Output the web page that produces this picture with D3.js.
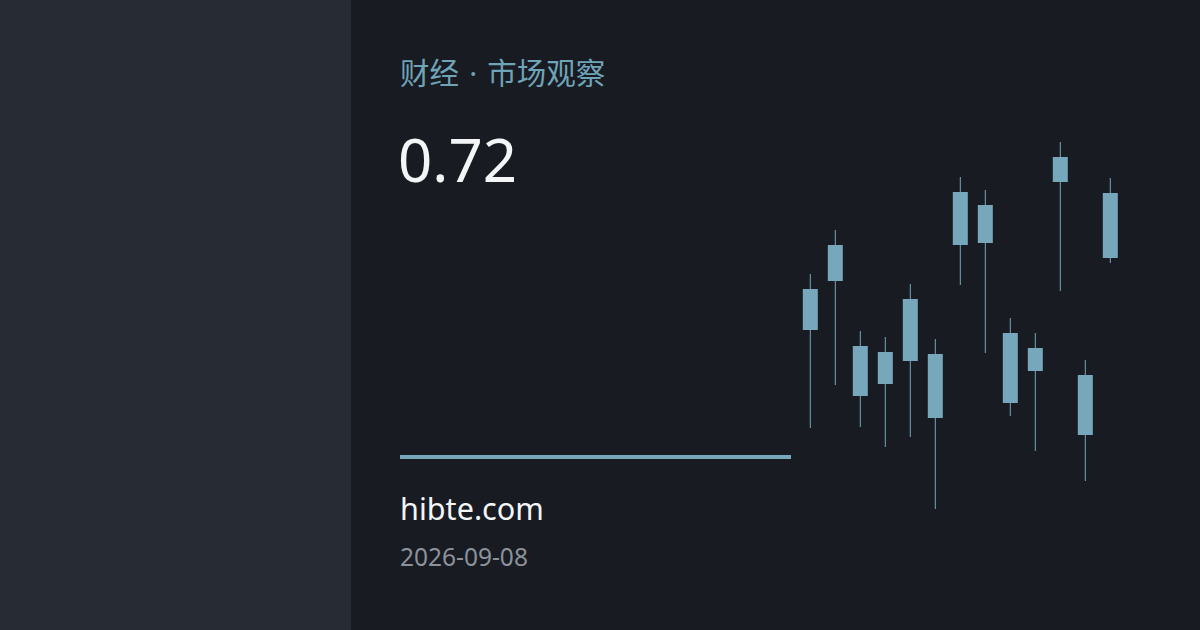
<!DOCTYPE html>
<html><head><meta charset="utf-8">
<script src="https://cdn.jsdelivr.net/npm/d3@7/dist/d3.min.js"></script>
<style>html,body{margin:0;padding:0;background:#181b22;}svg{display:block;}</style>
</head><body>
<svg id="c" width="1200" height="630"></svg>
<script>
const categories = ["1","2","3","4","5","6","7","8","9","10","11","12","13"];
const highs  = [24.6, 29.0, 18.9, 18.3, 23.6, 18.1, 34.3, 33.0, 20.2, 18.7, 37.8, 16.0, 34.2];
const lows   = [ 9.2, 13.5,  9.3,  7.3,  8.3,  1.1, 23.5, 16.7, 10.4,  6.9, 22.9,  3.9, 25.7];
const opens  = [19.0, 23.9, 17.4, 13.6, 15.9, 16.6, 27.5, 27.7, 18.7, 17.2, 33.8,  8.5, 26.2];
const closes = [23.1, 27.5, 12.4, 16.8, 22.1, 10.2, 32.8, 31.5, 11.7, 14.9, 36.3, 14.5, 32.7];
const titleParts = ["财经", " · ", "市场观察"];
const headline = "0.72";
const site = "hibte.com";
const dateLabel = "2026-09-08";

const svg = d3.select("#c");
svg.append("rect").attr("width",1200).attr("height",630).attr("fill","#181b22");
svg.append("rect").attr("width",351).attr("height",630).attr("fill","#272b33");

const font = "'Noto Sans','Noto Sans CJK SC',sans-serif";
const t = svg.append("text").attr("x",400).attr("y",84).attr("font-family",font)
  .attr("font-size",29.5).attr("fill","#6fa3b7");
t.selectAll("tspan").data(titleParts).join("tspan")
  .attr("dx",(d,i)=>i===0?0:2.5).text(d=>d);
svg.append("text").attr("x",398).attr("y",182).attr("font-family",font)
  .attr("font-size",60).attr("fill","#f3f5f7").text(headline);
svg.append("rect").attr("x",400).attr("y",455).attr("width",391).attr("height",4).attr("fill","#76a7ba");
svg.append("text").attr("x",400).attr("y",520).attr("font-family",font)
  .attr("font-size",30.6).attr("fill","#f3f5f7").text(site);
svg.append("text").attr("x",400).attr("y",566).attr("font-family",font)
  .attr("font-size",24.5).attr("fill","#8b929b").text(dateLabel);

const x = d3.scaleBand().domain(categories).range([797.8,1122.8]).paddingInner(0.4).paddingOuter(0.2);
const y = d3.scaleLinear().domain([0,39]).range([520,130]);
const data = categories.map((c,i)=>({c,h:highs[i],l:lows[i],o:opens[i],cl:closes[i]}));
const g = svg.append("g");
g.selectAll("line").data(data).join("line")
  .attr("x1",d=>x(d.c)+x.bandwidth()/2).attr("x2",d=>x(d.c)+x.bandwidth()/2)
  .attr("y1",d=>y(d.h)).attr("y2",d=>y(d.l))
  .attr("stroke","#76a7ba").attr("stroke-width",1);
g.selectAll("rect").data(data).join("rect")
  .attr("x",d=>x(d.c)).attr("width",x.bandwidth())
  .attr("y",d=>y(Math.max(d.o,d.cl))).attr("height",d=>Math.abs(y(d.o)-y(d.cl)))
  .attr("fill","#76a7ba");
</script>
</body></html>
